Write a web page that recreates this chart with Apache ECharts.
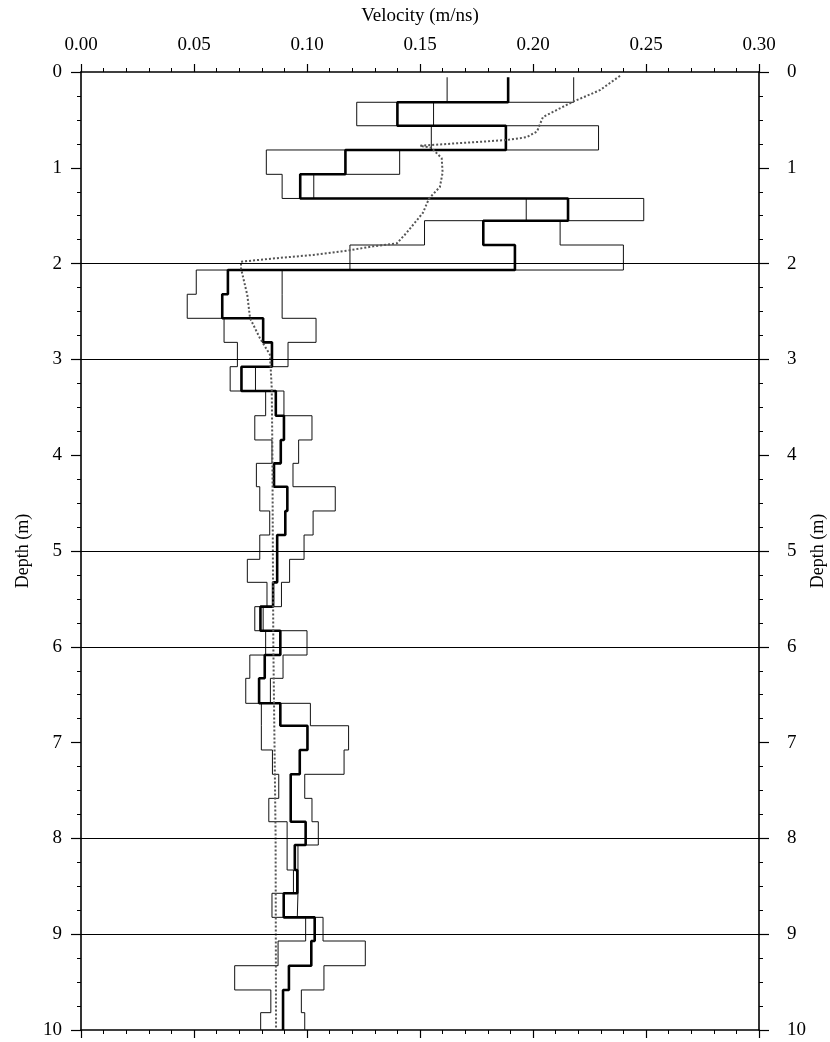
<!DOCTYPE html>
<html><head><meta charset="utf-8">
<script src="https://cdn.jsdelivr.net/npm/echarts/dist/echarts.min.js"></script>
<style>html,body{margin:0;padding:0;background:#fff}#c{width:830px;height:1042px}</style>
</head><body><div id="c"></div>
<script>
// Layer boundaries (depth, m)
const layerBounds = [0.055,0.316,0.561,0.814,1.068,1.320,1.552,1.806,2.067,2.320,2.571,2.822,3.076,3.330,3.588,3.841,4.085,4.329,4.582,4.833,5.087,5.327,5.581,5.832,6.086,6.329,6.590,6.824,7.077,7.331,7.582,7.826,8.069,8.330,8.573,8.824,9.071,9.329,9.582,9.819,10.0];
// Thick step line (m/ns) per layer
const meanVel = [0.189,0.140,0.188,0.117,0.097,0.2155,0.178,0.192,0.065,0.0625,0.0806,0.0845,0.071,0.0862,0.0898,0.0884,0.0854,0.0913,0.0904,0.0868,0.0868,0.085,0.0794,0.0882,0.0813,0.0788,0.0882,0.1002,0.0968,0.0928,0.0928,0.0994,0.0946,0.0957,0.0897,0.1034,0.1019,0.092,0.0894,0.0894];
// Thin step lines (m/ns) per layer
const lowVel = [0.162,0.122,0.155,0.082,0.089,0.197,0.152,0.119,0.051,0.047,0.0633,0.0692,0.066,0.0817,0.0769,0.0845,0.0776,0.0791,0.0835,0.0791,0.0736,0.0823,0.0769,0.0817,0.0747,0.0729,0.0798,0.0798,0.0847,0.0875,0.0831,0.0912,0.0912,0.094,0.0845,0.0994,0.0872,0.068,0.084,0.0795];
const highVel = [0.218,0.156,0.229,0.141,0.103,0.249,0.212,0.240,0.089,0.089,0.104,0.0916,0.0772,0.0898,0.1022,0.0963,0.0938,0.1125,0.1027,0.0987,0.0923,0.0887,0.0806,0.100,0.0894,0.0838,0.1015,0.1184,0.1164,0.099,0.1022,0.105,0.096,0.096,0.0957,0.1071,0.1258,0.1075,0.0975,0.099];
// Dotted curve
const trendVel =   [0.2385,0.2296,0.2177,0.2044,0.2018,0.1973,0.1885,0.169,0.150,0.155,0.1596,0.160,0.1588,0.154,0.1513,0.144,0.1397,0.1292,0.119,0.1027,0.088,0.0708,0.0708,0.0736,0.0748,0.0792,0.0836,0.0844,0.0847,0.0851,0.0861,0.0863];
const trendDepth = [0.04,0.19,0.31,0.47,0.62,0.68,0.71,0.74,0.77,0.79,0.90,1.05,1.20,1.32,1.47,1.68,1.79,1.82,1.86,1.91,1.94,1.98,2.05,2.33,2.57,2.78,2.95,3.30,4.00,5.98,7.96,10.0];
const depthLines = [2,3,5,6,8,9];

function steps(vals){
  const pts = [];
  vals.forEach((v,i)=>{ pts.push([v, layerBounds[i]]); pts.push([v, layerBounds[i+1]]); });
  return pts;
}
const FONT = 'Liberation Serif';
const lab = {color:'#000', fontFamily:FONT, fontSize:19};
function xAx(pos, showLab){
  return {
    type:'value', position:pos, min:0, max:0.30, interval:0.05,
    name: showLab ? 'Velocity (m/ns)' : '', nameLocation:'middle', nameGap:46, nameMoveOverlap:false,
    nameTextStyle:{color:'#000', fontFamily:FONT, fontSize:19},
    axisLine:{show:true, onZero:false, lineStyle:{color:'#000', width:1.6}},
    axisTick:{show:true, inside:false, length:8, lineStyle:{color:'#000', width:1.2}},
    minorTick:{show:true, splitNumber:5, length:4, lineStyle:{color:'#000', width:1}},
    axisLabel:Object.assign({show:showLab, margin:17, formatter:v=>v.toFixed(2)}, lab),
    splitLine:{show:false}, minorSplitLine:{show:false}
  };
}
function yAx(pos, margin){
  return {
    type:'value', position:pos, inverse:true, min:0, max:10, interval:1,
    name:'Depth (m)', nameLocation:'middle', nameGap: pos==='left'?49:50, nameRotate:90, nameMoveOverlap:false,
    nameTextStyle:{color:'#000', fontFamily:FONT, fontSize:18},
    axisLine:{show:true, onZero:false, lineStyle:{color:'#000', width:1.6}},
    axisTick:{show:true, inside:false, length:10, lineStyle:{color:'#000', width:1.2}},
    minorTick:{show:true, splitNumber:4, length:4, lineStyle:{color:'#000', width:1}},
    axisLabel:Object.assign({margin:margin}, lab),
    splitLine:{show:false}, minorSplitLine:{show:false}
  };
}
const chart = echarts.init(document.getElementById('c'), null, {renderer:'canvas'});
chart.setOption({
  animation:false,
  backgroundColor:'#fff',
  grid:{left:81, top:72, width:678, height:958, containLabel:false, outerBoundsMode:'none'},
  xAxis:[xAx('top', true), xAx('bottom', false)],
  yAxis:[yAx('left', 19), yAx('right', 28)],
  series:[
    {type:'line', name:'low', data:steps(lowVel), showSymbol:false, symbol:'none',
     lineStyle:{color:'#111', width:1}, z:2,
     markLine:{silent:true, symbol:['none','none'], label:{show:false},
       lineStyle:{color:'#000', width:1, type:'solid'},
       data: depthLines.map(d=>({yAxis:d}))}},
    {type:'line', name:'high', data:steps(highVel), showSymbol:false, symbol:'none',
     lineStyle:{color:'#111', width:1}, z:2},
    {type:'line', name:'mean', data:steps(meanVel), showSymbol:false, symbol:'none',
     lineStyle:{color:'#000', width:2.6}, z:3},
    {type:'line', name:'trend', data:trendVel.map((v,i)=>[v, trendDepth[i]]), showSymbol:false, symbol:'none',
     smooth:false, lineStyle:{color:'#555', width:2, type:[2,2]}, z:4}
  ]
});
</script></body></html>
